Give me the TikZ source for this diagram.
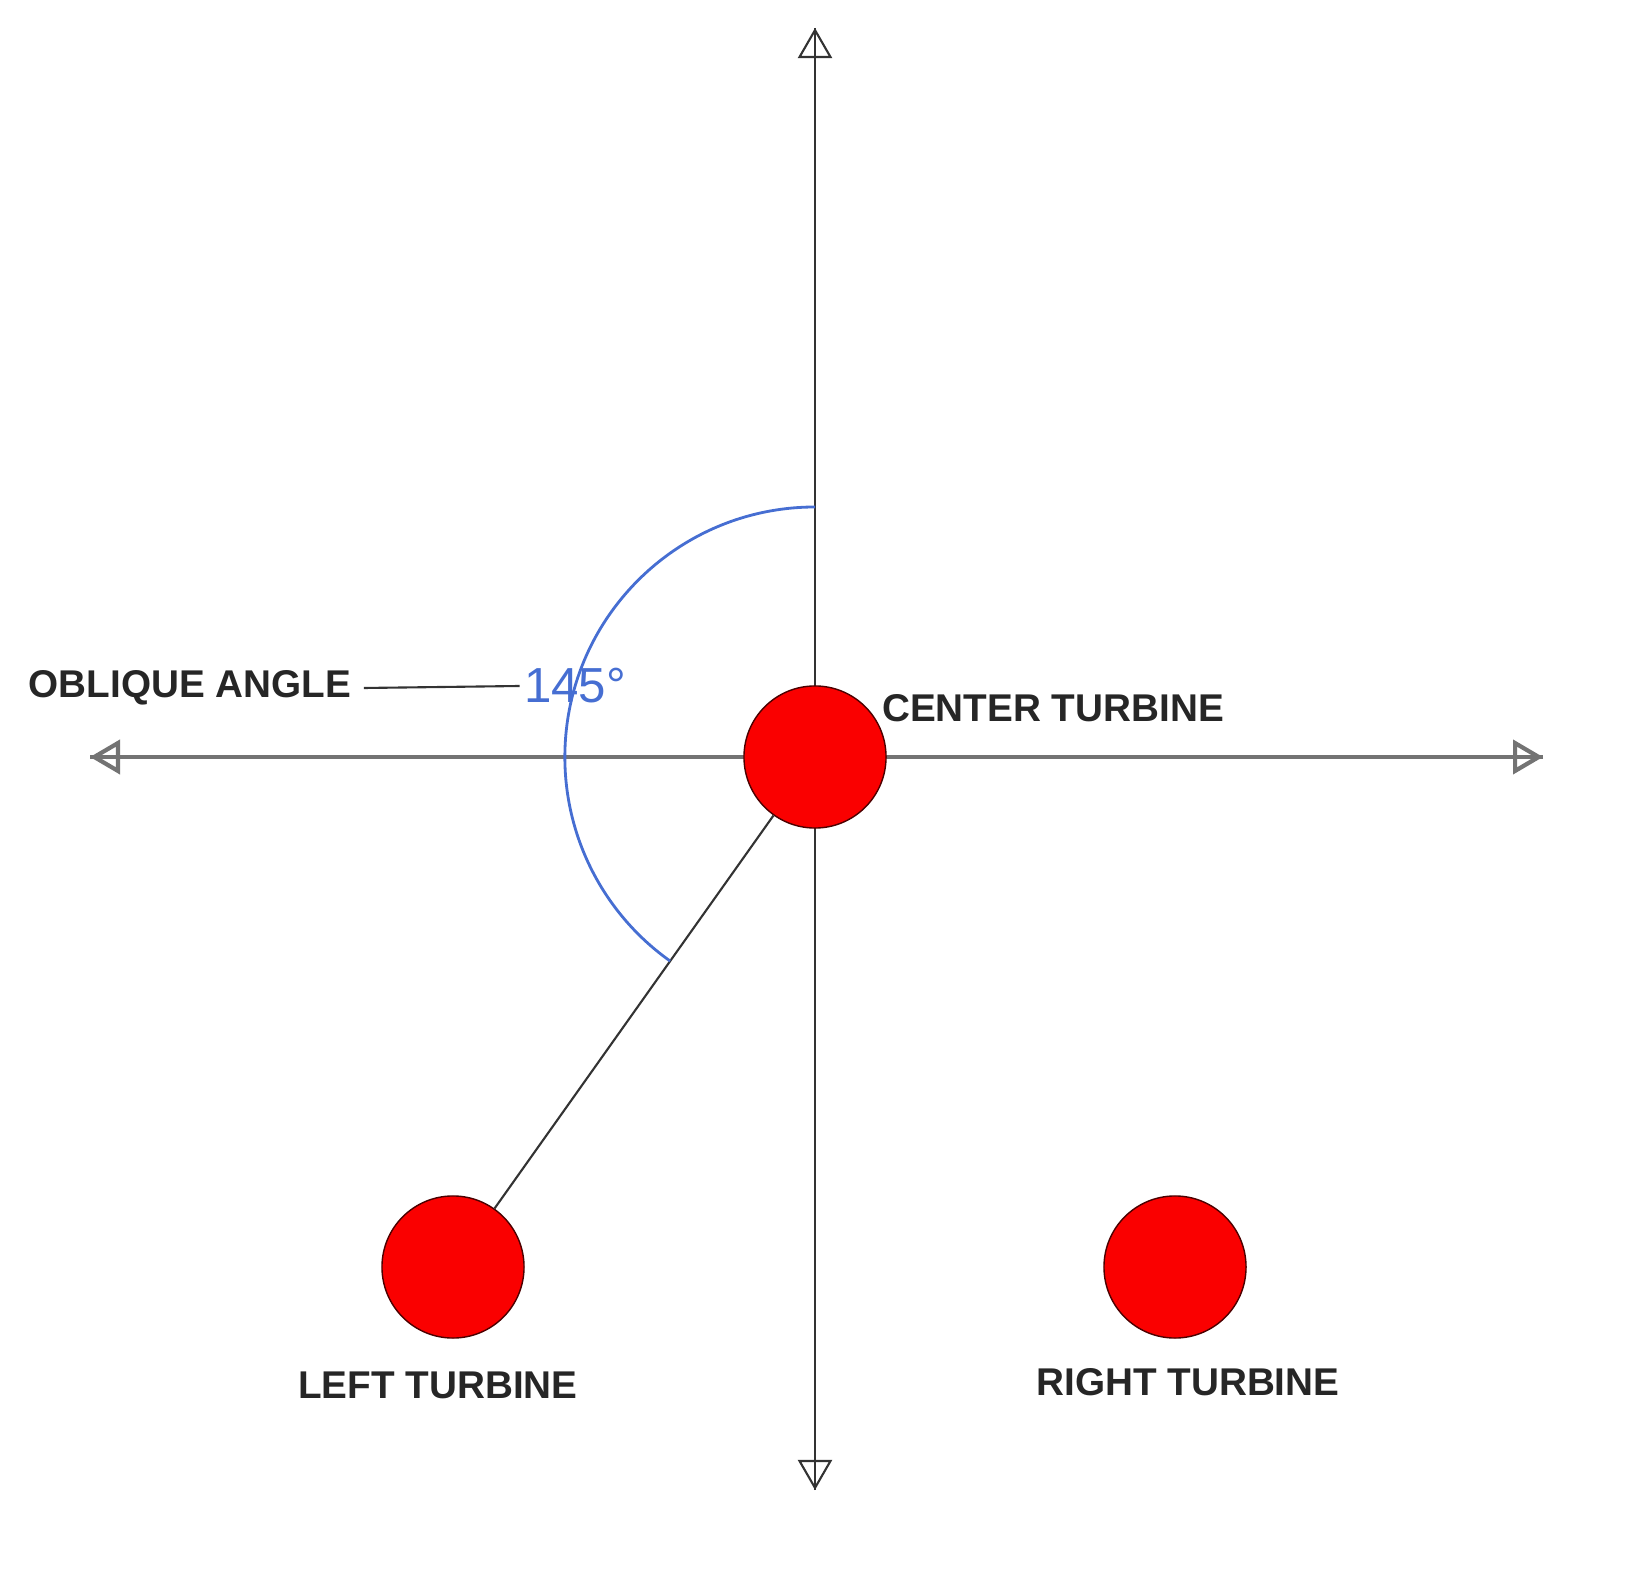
\documentclass[tikz,border=0pt]{standalone}
\usepackage{fontspec}
\setmainfont{Liberation Sans}
\usetikzlibrary{arrows.meta, positioning}
\definecolor{turbred}{RGB}{250,0,0}
\definecolor{anglblue}{RGB}{70,110,210}
\begin{document}
\begin{tikzpicture}[x=0.01cm, y=-0.01cm,
                    >={Triangle[open, length=0.3cm, width=0.34cm]}, semithick]
\tikzset{turbine/.style={circle, fill=turbred, draw=black!70!red, thin,
                    minimum size=1.42cm, inner sep=0pt},
         caption/.style={font=\bfseries\fontsize{11}{13}\selectfont, text=black!85}}
  \useasboundingbox (0,0) rectangle (1643,1577);
  % axes
  \coordinate (top) at (815,28);
  \coordinate (bot) at (815,1490);
  \coordinate (lft) at (90,757);
  \coordinate (rgt) at (1543,757);
  \draw[->, black!80] (bot) -- (top);
  \draw[->, black!80] (top) -- (bot);
  \draw[->, black!55, very thick] (rgt) -- (lft);
  \draw[->, black!55, very thick] (lft) -- (rgt);
  %
  \node[turbine] (C) at (815,757) {};
  \node[turbine] (L) at (453,1267) {};
  \node[turbine] (R) at (1175,1267) {};
  \draw[black!80] (C) -- (L);
  % angle
  \draw[anglblue, thick] (815,507) arc[start angle=90, end angle=234.6, radius=2.5cm];
  \node[text=anglblue, font=\fontsize{14}{16}\selectfont, inner sep=1pt] (ang) at (575,686) {145°};
  \node[caption] (obl) at (190,688) {OBLIQUE ANGLE};
  \draw[black!80] (obl.east) -- (ang.west);
  %
  \node[caption] (Ct) at (1053,708) {CENTER TURBINE};
  \node[caption] (Lt) at (438,1385) {LEFT TURBINE};
  \node[caption] (Rt) at (1188,1382) {RIGHT TURBINE};
\end{tikzpicture}
\end{document}
